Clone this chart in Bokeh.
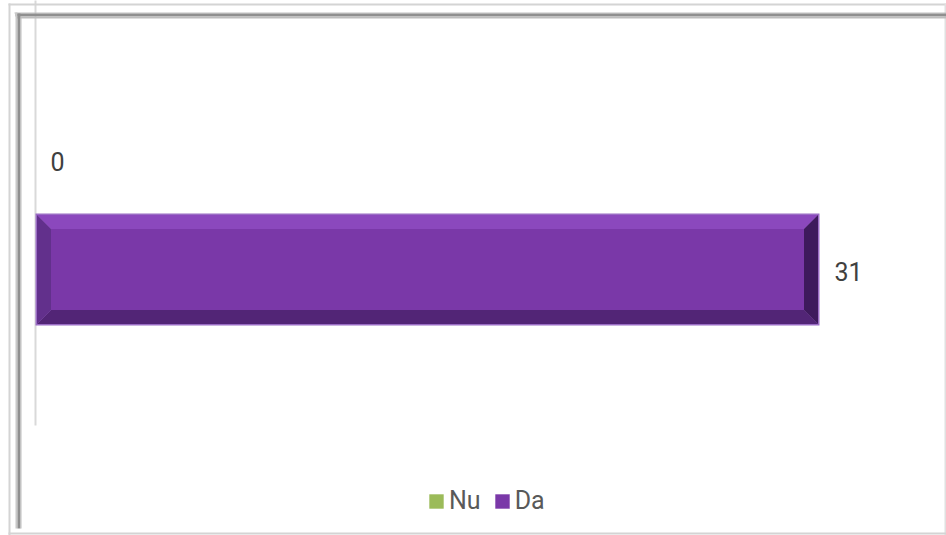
from bokeh.plotting import figure
from bokeh.models import Range1d, BoxAnnotation, Legend, LegendItem, ColumnDataSource
from bokeh.embed import file_html
from bokeh.resources import INLINE
from bokeh.core.properties import value

# ---- data ----
series = ["Nu", "Da"]
values = [0, 31]
series_colors = ["#9BBB59", "#7A38A8"]

W, H = 946, 535
PX_PER_UNIT_X = 784 / 31.0
PX_PER_UNIT_Y = 110.0
x0_px = 35
y_da_px = 269  # from top of frame

x_start = -x0_px / PX_PER_UNIT_X
x_end = (W - x0_px) / PX_PER_UNIT_X
y_start = -(H - y_da_px) / PX_PER_UNIT_Y
y_end = y_da_px / PX_PER_UNIT_Y

p = figure(width=W, height=H, output_backend="svg", toolbar_location=None,
           x_range=Range1d(x_start, x_end), y_range=Range1d(y_start, y_end),
           min_border=0, min_border_left=0, min_border_right=0,
           min_border_top=0, min_border_bottom=0)
p.xaxis.visible = False
p.yaxis.visible = False
p.xgrid.visible = False
p.ygrid.visible = False
p.outline_line_color = None
p.background_fill_color = "white"
p.border_fill_color = "white"

FONT = "Roboto"

# positions: first series on top
ypos = [len(series) - 1 - i for i in range(len(series))]
bar_h = 112 / PX_PER_UNIT_Y
bx = 14 / PX_PER_UNIT_X
by = 14 / PX_PER_UNIT_Y

# category axis line
axis_bottom = -(425 - y_da_px) / PX_PER_UNIT_Y
p.segment(x0=[0], y0=[axis_bottom], x1=[0], y1=[y_end + 1], line_color="#D9D9D9", line_width=2)

renderers = {}
for s, v, c, y in zip(series, values, series_colors, ypos):
    top = y + bar_h / 2
    bot = y - bar_h / 2
    if v > 0:
        p.quad(left=[0], right=[v], top=[top], bottom=[bot], fill_color="#9A6CC4", line_color=None)
        e = 1.5 / PX_PER_UNIT_X
        ey = 1.5 / PX_PER_UNIT_Y
        L, R, T, B = e, v - e, top - ey, bot + ey
        p.patch(x=[L, R, R - bx, L + bx], y=[T, T, T - by, T - by], fill_color="#8B48BD", line_color=None)
        p.patch(x=[L, R, R - bx, L + bx], y=[B, B, B + by, B + by], fill_color="#522576", line_color=None)
        p.patch(x=[L, L + bx, L + bx, L], y=[T, T - by, B + by, B], fill_color="#62308C", line_color=None)
        p.patch(x=[R, R - bx, R - bx, R], y=[T, T - by, B + by, B], fill_color="#3E1A5C", line_color=None)
        r = p.quad(left=[L + bx], right=[R - bx], top=[T - by], bottom=[B + by], fill_color=c, line_color=None)
    else:
        r = p.quad(left=[0], right=[v], top=[top], bottom=[bot], fill_color=c, line_color=None)
    renderers[s] = r

# value labels
src = ColumnDataSource(dict(x=values, y=ypos, t=[str(v) for v in values]))
p.text(x="x", y="y", text="t", source=src, x_offset=15, y_offset=2,
       text_font=value(FONT), text_font_size="25px", text_color="#404040",
       text_baseline="middle", text_align="left")

# chart border (screen units, y measured from bottom)
def band(l, r, t, b, color):
    p.add_layout(BoxAnnotation(left=l, right=r, top=H - t, bottom=H - b,
                               left_units="screen", right_units="screen",
                               top_units="screen", bottom_units="screen",
                               fill_color=color, fill_alpha=1, line_color=None,
                               editable=False))

band(8, 946, 3, 5, "#D4D4D4")      # outer top line
band(8, 10, 3, 535, "#D4D4D4")     # outer left line
band(944, 946, 3, 535, "#E0E0E0")  # outer right line
band(8, 946, 532, 534, "#D4D4D4")  # outer bottom line
band(14, 946, 12, 13, "#C0C0C0")
band(15, 946, 13, 16, "#8F8F8F")
band(16, 946, 16, 18, "#BDBDBD")
band(15, 17, 12, 528, "#C8C8C8")
band(17, 20, 13, 528, "#8F8F8F")
band(20, 21, 16, 528, "#BDBDBD")

legend = Legend(items=[LegendItem(label=s, renderers=[renderers[s]]) for s in series],
                orientation="horizontal", location=(427, 20),
                label_text_font=FONT, label_text_font_size="25px",
                label_text_color="#595959", glyph_width=18, glyph_height=18,
                label_standoff=4, spacing=12, padding=0, margin=0,
                border_line_color=None, background_fill_alpha=0)
p.add_layout(legend)

open("out.html", "w").write(file_html(p, INLINE))
